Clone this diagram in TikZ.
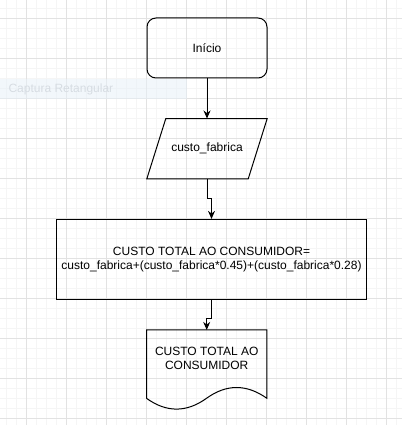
\documentclass[tikz,border=0pt]{standalone}
\usepackage{fontspec}
\setmainfont{Liberation Sans}
\usetikzlibrary{positioning, arrows.meta}

\definecolor{grademaior}{HTML}{E2E2E2}
\definecolor{grademenor}{HTML}{F5F5F5}
\definecolor{capturafundo}{HTML}{E6F0F8}
\definecolor{capturatexto}{HTML}{D6DCE2}

\begin{document}
\begin{tikzpicture}[
    x = 1pt, y = -1pt,
    node distance = 40pt,
    every node/.style = {font=\fontsize{12}{14.3}\selectfont, align=center},
    linha/.style = {line width=1pt, line join=miter},
    terminal/.style = {draw, linha, rounded corners=9pt, minimum width=120pt, minimum height=60pt},
    dados/.style = {minimum width=120pt, minimum height=60pt},
    processo/.style = {draw, linha, minimum width=310pt, minimum height=80pt, inner sep=0pt},
    documento/.style = {minimum width=120pt, minimum height=80pt, inner sep=0pt},
    fluxo/.style = {linha, -{Stealth[length=8pt, width=7pt]}},
  ]

  \useasboundingbox (0,0) rectangle (402,425);

  % grade de fundo
  \foreach \i in {0,...,39}
    \draw[grademenor, line width=1pt] ({6.7+10*\i},0) -- ++(0,425);
  \foreach \i in {0,...,41}
    \draw[grademenor, line width=1pt] (0,{8.3+10*\i}) -- ++(402,0);
  \foreach \i in {0,...,9}
    \draw[grademaior, line width=1pt] ({26.7+40*\i},0) -- ++(0,425);
  \foreach \i in {0,...,10}
    \draw[grademaior, line width=1pt] (0,{18.3+40*\i}) -- ++(402,0);

  \fill[capturafundo, opacity=.5] (0,79) rectangle (187,99);
  \node[anchor=west, text=capturatexto] (captura) at (5,89) {Captura Retangular};

  % fluxograma
  \node[terminal] (inicio) at (207,48) {Início};
  \node[dados, below=of inicio] (entrada) {custo\_fabrica};
  \draw[linha] ([xshift=19pt]entrada.north west) -- (entrada.north east)
    -- ([xshift=-19pt]entrada.south east) -- (entrada.south west) -- cycle;

  \node[processo, below=of entrada, xshift=4.5pt] (calculo)
    {CUSTO TOTAL AO CONSUMIDOR=\\custo\_fabrica+(custo\_fabrica*0.45)+(custo\_fabrica*0.28)};

  \node[documento, below=30pt of calculo, xshift=-4.8pt] (saida) {};
  \draw[linha] (saida.north west) -- (saida.north east) -- ([yshift=12pt]saida.south east)
    .. controls ([shift={(100pt,26.4pt)}]saida.south west) and ([shift={(80pt,26.4pt)}]saida.south west)
    .. ([shift={(60pt,12pt)}]saida.south west)
    .. controls ([shift={(40pt,-2.4pt)}]saida.south west) and ([shift={(20pt,-2.4pt)}]saida.south west)
    .. ([yshift=12pt]saida.south west) -- cycle;
  \node (saidatexto) at ([yshift=12pt]saida.center) {CUSTO TOTAL AO\\CONSUMIDOR};

  \draw[fluxo] (inicio) -- (entrada);
  \draw[fluxo] (entrada.south) -- ++(0,20) -| (calculo.north);
  \draw[fluxo] (calculo.south) -- ++(0,19) -| (saida.north);
\end{tikzpicture}
\end{document}
